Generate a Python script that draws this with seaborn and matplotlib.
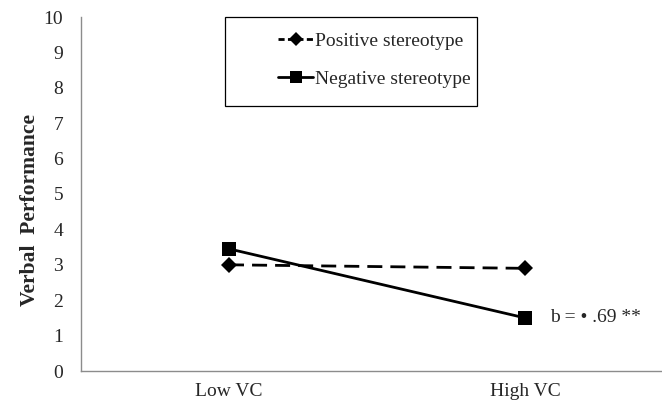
import pandas as pd
import numpy as np
import matplotlib
matplotlib.use("Agg")
import matplotlib.pyplot as plt
from matplotlib.patches import Rectangle
from matplotlib.lines import Line2D
import seaborn as sns

# Chart data
conditions = ["Low VC", "High VC"]
positive = [3.0, 2.9]
negative = [3.45, 1.5]
series_names = ["Positive stereotype", "Negative stereotype"]
annotation = "b = \u2022 .69 **"

sns.set_style("white")
plt.rcParams['font.family'] = ['Liberation Serif', 'DejaVu Serif']

FS = 14

df = pd.DataFrame({
    "x": list(range(len(conditions))) * 2,
    "value": positive + negative,
    "series": [series_names[0]] * len(conditions) + [series_names[1]] * len(conditions),
})

fig = plt.figure(figsize=(6.62, 4.04), dpi=100)
ax = fig.add_axes([81 / 662, 1 - 371 / 404, 592 / 662, 354 / 404])

sns.lineplot(data=df, x="x", y="value", hue="series", style="series",
             hue_order=series_names, style_order=series_names,
             palette=["black", "black"],
             markers={series_names[0]: "D", series_names[1]: "s"},
             dashes={series_names[0]: (5.4, 2.9), series_names[1]: ""},
             markersize=9.5, linewidth=2, markeredgewidth=0,
             ax=ax, legend=False)
# diamonds a bit smaller than squares
ax.lines[0].set_markersize(8.5)

# axes styling (Excel-like)
axis_color = "#8c8c8c"
for side in ["top", "right"]:
    ax.spines[side].set_visible(False)
for side in ["left", "bottom"]:
    ax.spines[side].set_color(axis_color)
    ax.spines[side].set_linewidth(1.0)

ax.set_ylim(0, 10)
ax.set_yticks(range(0, 11))
ax.set_xlim(-0.5, 1.5)
ax.set_xticks([-0.5, 0.5, 1.5])
ax.set_xticklabels([])
ax.set_xticks(range(len(conditions)), minor=True)
ax.set_xticklabels(conditions, minor=True, fontsize=FS)
ax.tick_params(axis="x", which="major", direction="out", length=4.3,
               color=axis_color, width=1)
ax.tick_params(axis="x", which="minor", length=0, pad=9)
ax.tick_params(axis="y", direction="out", length=4.3, color=axis_color,
               width=1, labelsize=FS, pad=8.5)

ax.set_xlabel("")
ax.set_ylabel("")
fig.text(30 / 662, 1 - 210 / 404, "Verbal  Performance", fontsize=15.5,
         fontweight="bold", rotation=90, ha="center", va="center")

ax.text(1.085, negative[1], annotation, fontsize=FS, va="center", ha="left")

# legend box
fig.patches.append(Rectangle((225 / 662, 1 - 106 / 404), 252 / 662, 89 / 404,
                             transform=fig.transFigure, fill=False,
                             edgecolor="black", linewidth=0.9))
handles = [
    Line2D([], [], color="black", lw=2, dashes=(2.2, 1.2), marker="D", markersize=7,
           markeredgewidth=0),
    Line2D([], [], color="black", lw=2, marker="s", markersize=8.5, markeredgewidth=0),
]
fig.legend(handles, series_names, loc="upper left",
           bbox_to_anchor=(278 / 662, 1 - 32 / 404), frameon=False,
           fontsize=FS, handlelength=1.8, handletextpad=0.1, labelspacing=1.05,
           borderpad=0, borderaxespad=0)

fig.savefig("out.png", dpi=100)
